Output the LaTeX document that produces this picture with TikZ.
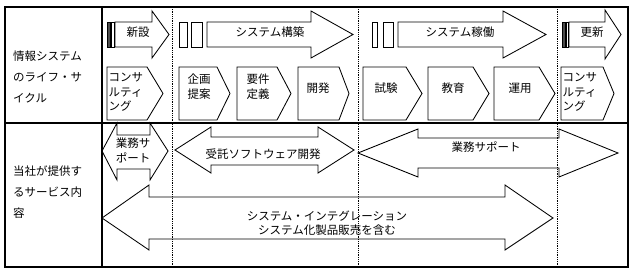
\documentclass[tikz,border=0pt]{standalone}
\usepackage{fontspec}
\setmainfont{Noto Sans CJK JP}
\usetikzlibrary{positioning}
\tikzset{
	frameline/.style={
			draw=black,
			line width=1.3pt
		},
	phaseline/.style={
			draw=black,
			densely dotted,
			line width=0.8pt
		},
	blockarrow/.style={
			draw=black,
			line width=0.85pt,
			line join=miter
		},
	stepchevron/.style={
			blockarrow
		},
	phasebar/.style={
			draw=black,
			line width=0.85pt
		},
	darkbar/.style={
			phasebar,
			fill=black!70
		}
}
\tikzset{
	labeltext/.style={font=\fontsize{11.5}{21}\selectfont, align=left, inner sep=0pt},
	steptext/.style={font=\fontsize{11.5}{14.5}\selectfont, align=center, inner sep=0pt},
	lefttext/.style={font=\fontsize{11.5}{14.5}\selectfont, align=left, inner sep=0pt}
}
\begin{document}
\begin{tikzpicture}[x=1pt, y=-1pt]
  \useasboundingbox (0,0) rectangle (636,275);

  % table
  \draw[frameline] (5,7) rectangle (628,267);
  \draw[frameline] (102,7) -- (102,267);
  \draw[frameline] (5,123) -- (628,123);

  \draw[phaseline] (172,7) -- (172,267);
  \draw[phaseline] (358,7) -- (358,267);
  \draw[phaseline] (557,7) -- (557,267);

  \node[labeltext, anchor=west] (lifecycle) at (13,77) {情報システム\\のライフ・サ\\イクル};
  \node[labeltext, anchor=west] (service) at (13,192) {当社が提供す\\るサービス内\\容};

  % phases
  \draw[darkbar] (107,22) rectangle (110,47);
  \draw[phasebar] (111,22) rectangle (114,47);
  \draw[blockarrow] (115,22) -- (152,22) -- (152,11) -- (169,34.5) -- (152,58) -- (152,47) -- (115,47) -- cycle;

  \draw[phasebar] (179,22) rectangle (187,47);
  \draw[phasebar] (191,22) rectangle (202,47);
  \draw[blockarrow] (207,22) -- (311,22) -- (311,11) -- (353,34.5) -- (311,58) -- (311,47) -- (207,47) -- cycle;

  \draw[phasebar] (372,22) rectangle (377,47);
  \draw[phasebar] (383,22) rectangle (393,47);
  \draw[blockarrow] (398,22) -- (503,22) -- (503,11) -- (546,34.5) -- (503,58) -- (503,47) -- (398,47) -- cycle;

  \draw[darkbar] (562,22) rectangle (565,47);
  \draw[phasebar] (566,22) rectangle (568,47);
  \draw[blockarrow] (569,22) -- (605,22) -- (605,10) -- (621,34.5) -- (605,59) -- (605,47) -- (569,47) -- cycle;

  \node[steptext] (p1) at (138,32) {新設};
  \node[steptext] (p2) at (270,32) {システム構築};
  \node[steptext] (p3) at (460,32) {システム稼働};
  \node[steptext] (p4) at (592,32) {更新};

  % steps
  \draw[stepchevron] (107,67) -- (147,67) -- (163,93.5) -- (147,120) -- (107,120) -- cycle;
  \draw[stepchevron] (179,67) -- (217,67) -- (230,93.5) -- (217,120) -- (179,120) -- cycle;
  \draw[stepchevron] (237,67) -- (277,67) -- (291,93.5) -- (277,120) -- (237,120) -- cycle;
  \draw[stepchevron] (298,67) -- (339,67) -- (349,93.5) -- (339,120) -- (298,120) -- cycle;
  \draw[stepchevron] (363,67) -- (406,67) -- (422,93.5) -- (406,120) -- (363,120) -- cycle;
  \draw[stepchevron] (428,67) -- (473,67) -- (489,93.5) -- (473,120) -- (428,120) -- cycle;
  \draw[stepchevron] (494,67) -- (539,67) -- (555,93.5) -- (539,120) -- (494,120) -- cycle;
  \draw[stepchevron] (561,67) -- (603,67) -- (614,93.5) -- (603,120) -- (561,120) -- cycle;

  \node[lefttext, anchor=west] (s1) at (108.5,92) {コンサ\\ルティ\\ング};
  \node[steptext] (s2) at (199,86.5) {企画\\提案};
  \node[steptext] (s3) at (258,86.5) {要件\\定義};
  \node[steptext] (s4) at (318,88) {開発};
  \node[steptext] (s5) at (386,88) {試験};
  \node[steptext] (s6) at (453,88) {教育};
  \node[steptext] (s7) at (520,88) {運用};
  \node[lefttext, anchor=west] (s8) at (562.5,92) {コンサ\\ルティ\\ング};

  % services
  \draw[blockarrow] (102,151) -- (117,123) -- (117,135) -- (150,135) -- (150,123) -- (168,151)
    -- (150,180) -- (150,169) -- (117,169) -- (117,180) -- cycle;
  \draw[blockarrow] (175,150) -- (211,127) -- (211,137) -- (318,137) -- (318,127) -- (354,150)
    -- (318,173) -- (318,165) -- (211,165) -- (211,173) -- cycle;
  \draw[blockarrow] (358,153) -- (418,129) -- (418,138) -- (559,138) -- (559,129) -- (618,153)
    -- (559,177) -- (559,168) -- (418,168) -- (418,177) -- cycle;
  \draw[blockarrow] (102,218) -- (149,185) -- (149,197) -- (505,197) -- (505,185) -- (553,218)
    -- (505,250) -- (505,239) -- (149,239) -- (149,250) -- cycle;

  \node[steptext] (v1) at (133,150.5) {業務サ\\ポート};
  \node[steptext] (v2) at (263,154) {受託ソフトウェア開発};
  \node[steptext] (v3) at (486,147) {業務サポート};
  \node[steptext] (v4) at (327,223) {システム・インテグレーション\\システム化製品販売を含む};

\end{tikzpicture}
\end{document}
